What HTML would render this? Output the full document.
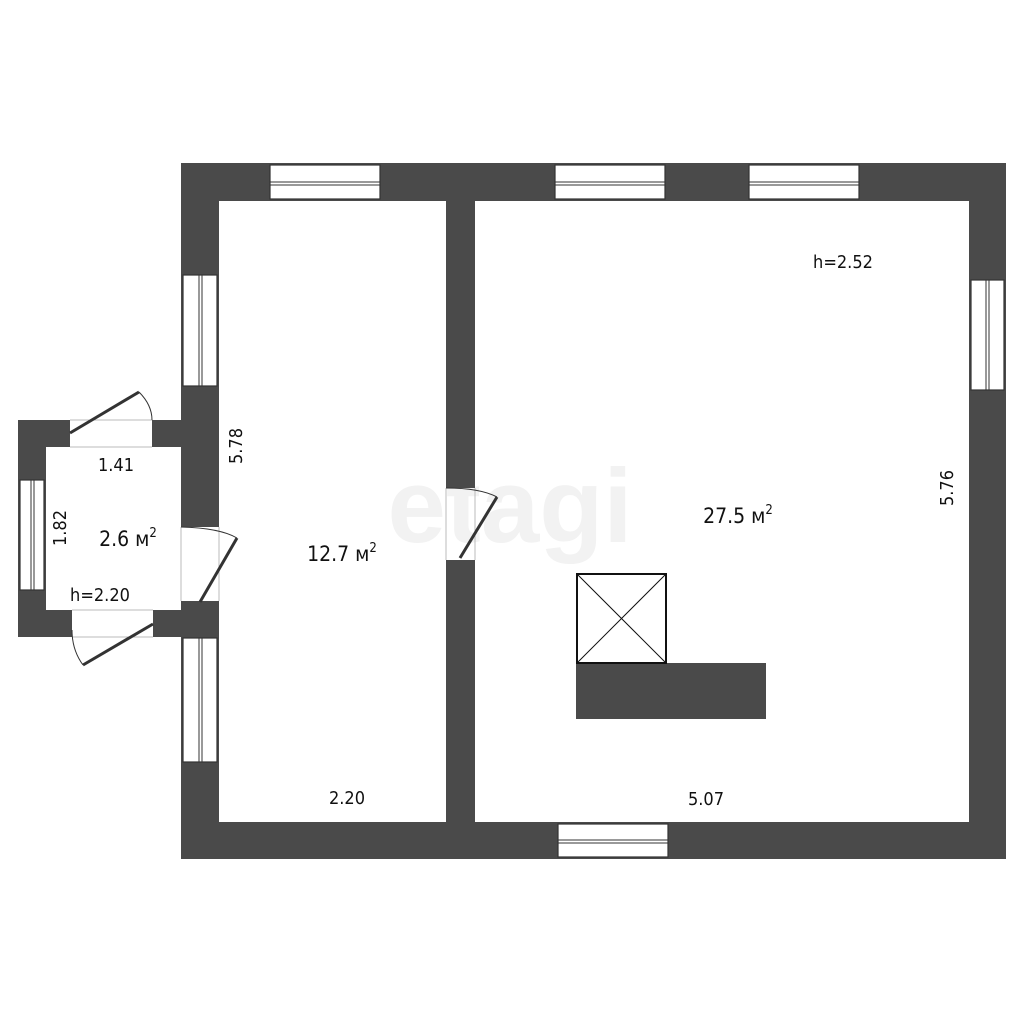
<!DOCTYPE html>
<html><head><meta charset="utf-8"><style>
html,body{margin:0;padding:0;background:#fff;}
svg{display:block;}
text{font-family:"DejaVu Sans Condensed","Liberation Sans Narrow","Liberation Sans",sans-serif;fill:#111;}
</style></head><body>
<svg width="1024" height="1024" viewBox="0 0 1024 1024" xmlns="http://www.w3.org/2000/svg">
<rect width="1024" height="1024" fill="#fff"/>
<text x="510" y="542" text-anchor="middle" font-size="105" font-weight="bold" style="fill:#f2f2f2;font-family:'Liberation Sans',sans-serif">etagi</text>
<g fill="#4a4a4a">
<rect x="181" y="163" width="825" height="38"/>
<rect x="181" y="822" width="825" height="37"/>
<rect x="181" y="163" width="38" height="364"/>
<rect x="181" y="601" width="38" height="258"/>
<rect x="969" y="163" width="37" height="696"/>
<rect x="446" y="201" width="29" height="287"/>
<rect x="446" y="560" width="29" height="262"/>
<rect x="18" y="420" width="28" height="217"/>
<rect x="18" y="420" width="52" height="27"/>
<rect x="152" y="420" width="67" height="27"/>
<rect x="18" y="610" width="54" height="27"/>
<rect x="153" y="610" width="66" height="27"/>
<rect x="576" y="663" width="190" height="56"/>
</g>
<g fill="#fff" stroke="#333" stroke-width="1.2">
<rect x="270" y="165" width="110" height="34"/>
<rect x="555" y="165" width="110" height="34"/>
<rect x="749" y="165" width="110" height="34"/>
<rect x="558" y="824" width="110" height="33"/>
<rect x="183" y="275" width="34" height="111"/>
<rect x="183" y="638" width="34" height="124"/>
<rect x="971" y="280" width="33" height="110"/>
<rect x="20" y="480" width="24" height="110"/>
</g>
<g fill="none" stroke="#333" stroke-width="1">
<path d="M270 182h110M270 185h110M555 182h110M555 185h110M749 182h110M749 185h110M558 840h110M558 843h110"/>
<path d="M199 275v111M202 275v111M199 638v124M202 638v124M986 280v110M989 280v110M31 480v110M34 480v110"/>
</g>
<g stroke="#bbb" stroke-width="1" fill="none">
<path d="M446 488v72M475 488v72M181 527v74M219 527v74M70 420h82M70 447h82M72 610h81M72 637h81"/>
</g>
<g stroke="#333" fill="none">
<path d="M460 558L497 497" stroke-width="3"/>
<path d="M446 488Q480 488 497 497" stroke-width="1"/>
<path d="M200 602L237 538" stroke-width="3"/>
<path d="M181 527Q220 528 237 538" stroke-width="1"/>
<path d="M70 433L139 392" stroke-width="3"/>
<path d="M139 392Q152 405 152 420" stroke-width="1"/>
<path d="M153 624L83 665" stroke-width="3"/>
<path d="M83 665Q72 650 72 630" stroke-width="1"/>
</g>
<rect x="577" y="574" width="89" height="89" fill="#fff" stroke="#111" stroke-width="2"/>
<path d="M577 574L666 663M666 574L577 663" stroke="#111" stroke-width="1"/>
<g font-size="18">
<text x="116" y="471" text-anchor="middle">1.41</text>
<text x="60" y="534" text-anchor="middle" transform="rotate(-90 60 528)">1.82</text>
<text x="128" y="546" text-anchor="middle" font-size="21">2.6 м<tspan font-size="13" dy="-9">2</tspan></text>
<text x="100" y="601" text-anchor="middle">h=2.20</text>
<text x="236" y="452" text-anchor="middle" transform="rotate(-90 236 446)">5.78</text>
<text x="342" y="561" text-anchor="middle" font-size="21">12.7 м<tspan font-size="13" dy="-9">2</tspan></text>
<text x="347" y="804" text-anchor="middle">2.20</text>
<text x="843" y="268" text-anchor="middle">h=2.52</text>
<text x="738" y="523" text-anchor="middle" font-size="21">27.5 м<tspan font-size="13" dy="-9">2</tspan></text>
<text x="947" y="494" text-anchor="middle" transform="rotate(-90 947 488)">5.76</text>
<text x="706" y="805" text-anchor="middle">5.07</text>
</g>
</svg>
</body></html>
